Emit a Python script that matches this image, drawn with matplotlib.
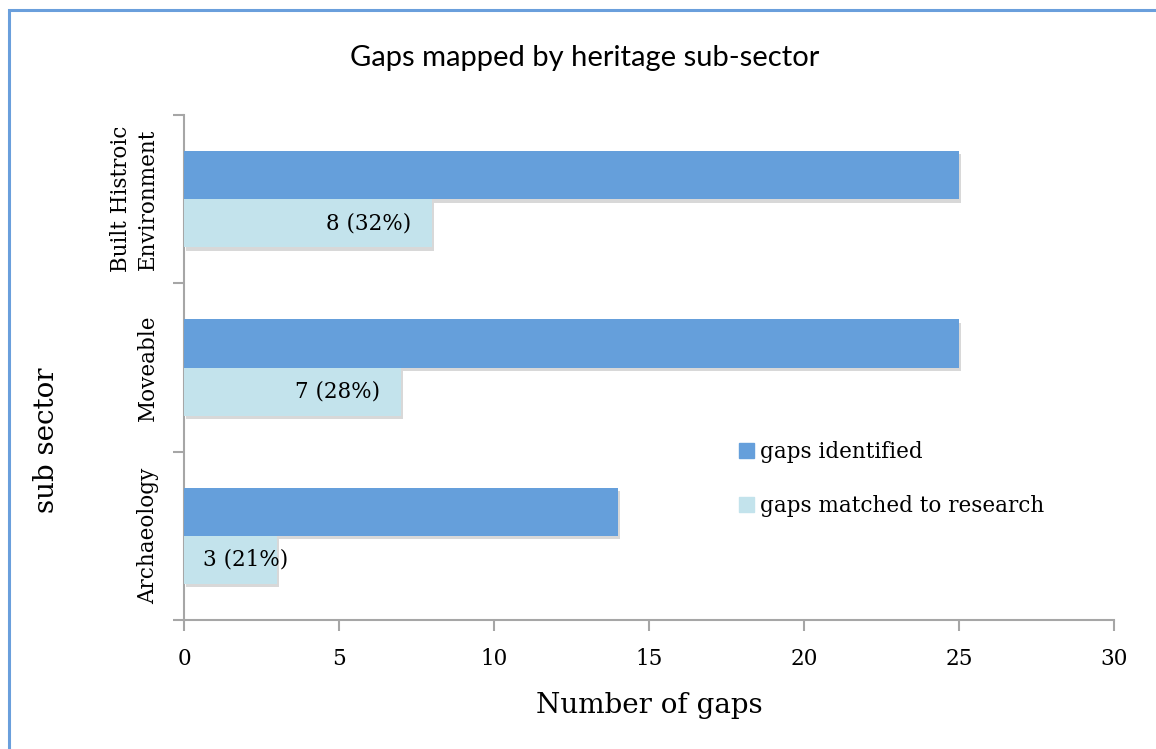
import matplotlib
matplotlib.use("Agg")
import matplotlib.pyplot as plt
import matplotlib.patheffects as pe
from matplotlib.patches import Rectangle
import numpy as np

categories = ["Archaeology", "Moveable", "Built Histroic\nEnvironment"]
gaps_identified = [14, 25, 25]
gaps_matched = [3, 7, 8]
matched_labels = ["3 (21%)", "7 (28%)", "8 (32%)"]
series_names = ["gaps identified", "gaps matched to research"]
x_ticks = [0, 5, 10, 15, 20, 25, 30]

DARK = "#659fdb"
LIGHT = "#c3e3ec"
GRID = "#a6a6a6"
SERIF = "DejaVu Serif"
SANS = "Lato"

fig = plt.figure(figsize=(11.56, 7.49), dpi=100)
ax = fig.add_axes([184/1156, 1-620/749, (1114-184)/1156, (620-115)/749])

y = np.arange(len(categories))
h = 0.286
shadow = [pe.SimplePatchShadow(offset=(1.5, -2.5), shadow_rgbFace="#808080", alpha=0.3), pe.Normal()]
b1 = ax.barh(y + h/2, gaps_identified, height=h, color=DARK, label=series_names[0], zorder=3)
b2 = ax.barh(y - h/2, gaps_matched, height=h, color=LIGHT, label=series_names[1], zorder=3)
for b in list(b1) + list(b2):
    b.set_path_effects(shadow)

for yi, v, lab in zip(y, gaps_matched, matched_labels):
    if v >= 5:
        ax.annotate(lab, (v, yi - h/2), xytext=(-15, 0), textcoords="offset points",
                    ha="right", va="center", fontsize=15.5, family=SERIF, zorder=5)
    else:
        ax.annotate(lab, (0, yi - h/2), xytext=(14, 0), textcoords="offset points",
                    ha="left", va="center", fontsize=15.5, family=SERIF, zorder=5)

ax.set_xlim(0, 30)
ax.set_ylim(-0.5, len(categories) - 0.5)
ax.set_xticks(x_ticks)
ax.set_xticklabels([str(t) for t in x_ticks], family=SERIF, fontsize=15.5)
ax.set_yticks(y)
ax.set_yticklabels(categories, family=SERIF, fontsize=15.5, rotation=90, va="center", ha="right",
                   multialignment="center", linespacing=1.3)
ax.set_yticks(np.arange(-0.5, len(categories), 1.0), minor=True)
ax.tick_params(axis="y", which="major", length=0, pad=18)
ax.tick_params(axis="y", which="minor", length=8, color=GRID, width=1.5)
ax.tick_params(axis="x", which="major", length=8, color=GRID, width=1.5, pad=12)
for s in ["top", "right"]:
    ax.spines[s].set_visible(False)
for s in ["left", "bottom"]:
    ax.spines[s].set_color(GRID)
    ax.spines[s].set_linewidth(1.5)

ax.set_xlabel("Number of gaps", family=SERIF, fontsize=20, labelpad=16)
ax.set_ylabel("sub sector", family=SERIF, fontsize=20)
ax.yaxis.set_label_coords((60 - 184) / 930, (620 - 440) / 505)
fig.text(585/1156, 1-58/749, "Gaps mapped by heritage sub-sector", family=SANS, fontsize=21,
         ha="center", va="center")

handles = [Rectangle((0, 0), 1, 1, color=DARK), Rectangle((0, 0), 1, 1, color=LIGHT)]
leg = fig.legend(handles, series_names, loc="upper left", bbox_to_anchor=(720/1156, 1-422/749),
                 frameon=False, prop={"family": SERIF, "size": 15.5}, handlelength=0.7, handleheight=0.7,
                 handletextpad=0.25, labelspacing=1.45)

fig.patches.append(Rectangle((9/1156, -0.1), 1.2, (1-10/749) + 0.1, transform=fig.transFigure,
                             fill=False, edgecolor="#6a9fdc", linewidth=2.2))

fig.savefig("out.png", dpi=100)
